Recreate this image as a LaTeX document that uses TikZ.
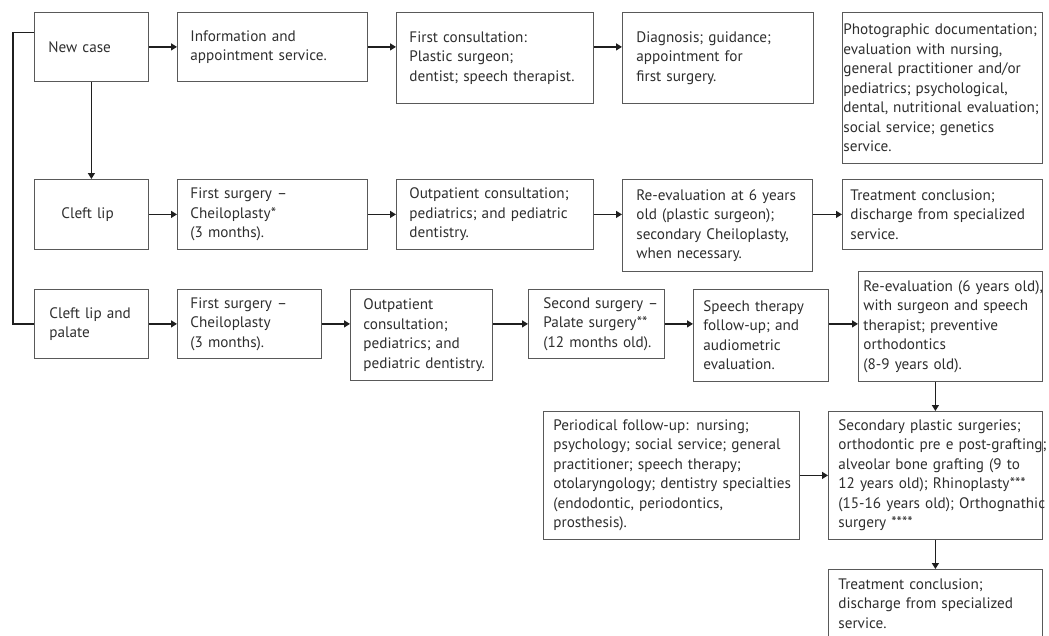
\documentclass[tikz,border=0pt]{standalone}
\usepackage{fontspec}
\setmainfont{PT Sans}
\usetikzlibrary{arrows.meta}

\newcommand{\stagefont}{\fontsize{15.2}{19.5}\selectfont}

\tikzset{
  stage/.style={draw=black!65, line width=0.8pt, rectangle, anchor=north west,
    inner xsep=0pt, inner ysep=0pt, align=left, text=black!82, font=\stagefont},
  inset/.style={execute at begin node={\leftskip=#1pt\rightskip=-30pt plus 1fil}},
  flow/.style={draw=black!88, line width=1.3pt, -{Triangle[length=6pt,width=7pt]}},
  link/.style={draw=black!88, line width=1.3pt},
}

\begin{document}
\begin{tikzpicture}[x=1pt, y=-1pt]
  \useasboundingbox (0,0) rectangle (1049,635);

  % First row: admission of every new case
  \node[stage, inset=14, text width=114pt, minimum height=69pt] (newcase) at (34,12) {New case};
  \node[stage, inset=13, text width=190pt, minimum height=69pt] (info) at (177,12) {Information and\\appointment service.};
  \node[stage, inset=13, text width=197pt, minimum height=91pt] (firstcons) at (396,12) {First consultation:\\Plastic surgeon;\\dentist; speech therapist.};
  \node[stage, inset=14, text width=191pt, minimum height=91pt] (diagnosis) at (622,12) {Diagnosis; guidance;\\appointment for\\first surgery.};
  \node[stage, inset=1, text width=200pt, minimum height=151pt] (photo) at (842,12) {Photographic documentation;\\evaluation with nursing,\\general practitioner and/or\\pediatrics; psychological,\\dental, nutritional evaluation;\\social service; genetics\\service.};

  % Second row: cleft lip
  \node[stage, inset=27, text width=114pt, minimum height=70pt] (cleftlip) at (34,179) {Cleft lip};
  \node[stage, inset=13, text width=190pt, minimum height=70pt] (clsurgery) at (177,179) {First surgery –\\Cheiloplasty*\\(3 months).};
  \node[stage, inset=13, text width=197pt, minimum height=70pt] (cloutpatient) at (396,179) {Outpatient consultation;\\pediatrics; and pediatric\\dentistry.};
  \node[stage, inset=14, text width=190pt, minimum height=92pt] (clreeval) at (622,179) {Re-evaluation at 6 years\\old (plastic surgeon);\\secondary Cheiloplasty,\\when necessary.};
  \node[stage, inset=8, text width=200pt, minimum height=70pt] (clconclusion) at (842,179) {Treatment conclusion;\\discharge from specialized\\service.};

  % Third row: cleft lip and palate
  \node[stage, inset=15, text width=114pt, minimum height=69pt] (clp) at (34,289) {Cleft lip and\\palate};
  \node[stage, inset=13, text width=144pt, minimum height=69pt] (clpsurgery) at (177,289) {First surgery –\\Cheiloplasty\\(3 months).};
  \node[stage, inset=13, text width=142pt, minimum height=91pt] (clpoutpatient) at (350,289) {Outpatient\\consultation;\\pediatrics; and\\pediatric dentistry.};
  \node[stage, inset=15, text width=136pt, minimum height=69pt] (palate) at (528,289) {Second surgery –\\Palate surgery**\\(12 months old).};
  \node[stage, inset=10, text width=135pt, minimum height=92pt] (speech) at (693,289) {Speech therapy\\follow-up; and\\audiometric\\evaluation.};
  \node[stage, inset=5, text width=184pt, minimum height=110pt] (clpreeval) at (858,271) {Re-evaluation (6 years old),\\with surgeon and speech\\therapist; preventive\\orthodontics\\(8-9 years old).};

  % Later follow-up
  \node[stage, inset=10, text width=256pt, minimum height=128pt] (periodical) at (543,411) {Periodical follow-up: nursing;\\psychology; social service; general\\practitioner; speech therapy;\\otolaryngology; dentistry specialties\\(endodontic, periodontics,\\prosthesis).};
  \node[stage, inset=10, text width=214pt, minimum height=128pt] (secondary) at (828,411) {Secondary plastic surgeries;\\orthodontic pre e post-grafting;\\alveolar bone grafting (9 to\\12 years old); Rhinoplasty***\\(15-16 years old); Orthognathic\\surgery ****};
  \node[stage, inset=10, text width=214pt, minimum height=68pt] (final) at (828,569) {Treatment conclusion;\\discharge from specialized\\service.};

  % Connectors
  \draw[flow] (newcase) -- (info);
  \draw[flow] (info.east) -- (info.east -| firstcons.west);
  \draw[flow] (firstcons.east |- info.east) -- (diagnosis.west |- info.east);
  \draw[flow] (newcase) -- (cleftlip);
  \draw[link] ([yshift=14.5pt]newcase.west) -- ++(-21,0) |- (clp.west);

  \draw[flow] (cleftlip) -- (clsurgery);
  \draw[flow] (clsurgery) -- (cloutpatient);
  \draw[flow] (cloutpatient.east) -- (cloutpatient.east -| clreeval.west);
  \draw[flow] (clreeval.east |- clconclusion.west) -- (clconclusion.west);

  \draw[flow] (clp) -- (clpsurgery);
  \draw[flow] (clpsurgery.east) -- (clpsurgery.east -| clpoutpatient.west);
  \draw[flow] (clpoutpatient.east |- palate.west) -- (palate.west);
  \draw[flow] (palate.east) -- (palate.east -| speech.west);
  \draw[flow] (speech.east |- palate.east) -- (clpreeval.west |- palate.east);
  \draw[flow] (clpreeval.south -| secondary.north) -- (secondary.north);

  \draw[flow] (periodical) -- (secondary);
  \draw[flow] (secondary) -- (final);
\end{tikzpicture}
\end{document}
